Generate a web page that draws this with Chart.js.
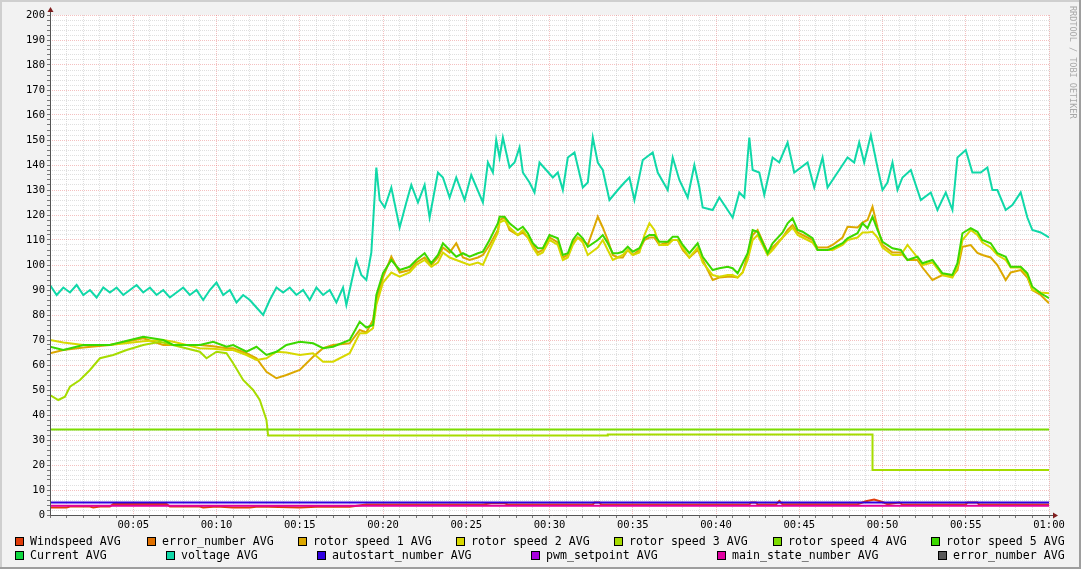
<!DOCTYPE html>
<html>
<head>
<meta charset="utf-8">
<script src="https://cdn.jsdelivr.net/npm/chart.js@4.4.1/dist/chart.umd.min.js"></script>
<style>
  html, body { margin: 0; padding: 0; background: #f2f2f2; overflow: hidden; }
  canvas { display: block; }
</style>
</head>
<body>
<canvas id="graph" width="1081" height="569"></canvas>
<script>
// minutes since start
const windT = [0,1.0,1.2,2.4,2.6,3.0,3.6,3.8,7.0,7.2, 9.0,9.2,10.0,11.0,12.0,12.5,15.0,16.0,18.0,19.0,
  26.0,26.5,27.3,27.5,32.6,32.7,33.0,33.1,42.0,42.1, 42.4,42.5,43.6,43.8,44.0,48.5,49.0,49.5,50.0,50.3,
  51.0,51.2,55.0,55.1,55.7,55.8,60];
const windV = [3.0,3.0,3.4,3.4,3.0,3.4,3.4,4.4,4.4,3.4, 3.4,3.0,3.4,3.0,3.0,3.4,3.0,3.3,3.3,4.2,
  4.2,4.7,4.7,4.2,4.2,5.0,5.0,4.2,4.2,5.0, 5.0,4.2,4.2,5.6,4.3,4.3,5.5,6.2,5.2,4.3,
  5.0,4.2,4.2,5.0,5.0,4.2,4.2];

const rotorT = [0,0.8,2.0,3.6,5.6,6.8,7.4,9.0,9.8,10.6, 11.0,11.8,12.4,13.0,13.6,14.2,15.0,15.8,16.4,17.0,
  18.0,18.6,19.0,19.4,19.6,20.0,20.5,21.0,21.6,22.0, 22.5,22.9,23.3,23.6,24.0,24.4,24.8,25.2,25.7,26.0,
  26.4,26.9,27.0,27.3,27.6,28.1,28.4,28.7,29.0,29.3, 29.6,30.0,30.5,30.8,31.1,31.4,31.7,32.0,32.3,32.9,
  33.2,33.5,33.8,34.1,34.4,34.7,35.0,35.4,35.7,36.0, 36.3,36.6,37.1,37.4,37.7,38.0,38.4,38.9,39.2,39.8,
  40.2,40.7,41.0,41.3,41.6,41.9,42.2,42.5,43.1,43.4, 44.0,44.3,44.6,44.9,45.2,45.8,46.1,46.7,47.0,47.6,
  47.9,48.5,48.8,49.1,49.4,49.7,50.0,50.6,51.1,51.5, 52.1,52.4,53.0,53.6,54.2,54.5,54.8,55.3,55.7,56.0,
  56.5,56.9,57.4,57.7,58.3,58.7,59.0,59.5,60.0];
const rotor1V = [64.7,66,67,68,70.7,68,68,68,67.5,66.7, 66.7,64.7,62.7,57.3,54.7,56,58,63.3,66.7,68,
  68.7,74,73,78,86,95,103.3,97,98,101, 103,100,103,107,105,108.7,103,102,103,104,
  108,114,118,119,114,112,113,111,108,105, 106,111,109,103,104,109,111,110,108,119.3,
  115,110,104,103,103,106,104,106,110,111, 111,108,109,110,110,106,103,106,102,94,
  95,95.3,95.3,95,97,104,112,114,105,107, 111,114,116,113,112,110,107,107,108,111,
  115.3,115,117,118,123.3,115,108,105,105,102, 102,99,94,96,95.5,98,107.3,108,104.8,104,
  103,100,94,97,98,95,90,88,84.7];
const rotor2V = [70,69,68,68,69.5,70,69.3,66.7,66.5,66, 66,64,62,62.7,65.3,65,64,64.7,61.3,61.3,
  64.7,72.7,72.7,74.7,84,93,97,95.3,97,100, 102,99.3,101,105,103,102,101,100,101,100,
  106,113,117,118,115,112,114,111,107,104, 105,110,108,102,103,108,111,109,104,107,
  110,106,102,103,104,106,104,105,112,116.7, 114,108,108,110,110,107,103,107,101,96,
  95.3,96,96,95,97,102,110,112,104,106, 111,113,115,112,111,109,106,106,106,108,
  110,111,113,113,113.3,111,107,104,104,108, 103,100,101,96,95,99,110,114,112,109,
  107,104,102,99,99,96,90,89,88.7];
const rotor5V = [67.3,66,68,68,71.3,70,68,68,69.3,67.3, 68,65.3,67.3,64,65.3,68,69.3,68.7,66.7,67.3,
  70,77.3,75,76,88,96.7,102,98,99.3,102, 104.7,100.7,104,108.7,106,103.3,104.7,103.3,104.7,105.3,
  110,116.7,119.3,119.3,116.7,114,115.3,112.7,108.7,106.7, 106.7,112,110.7,104,104.7,110,112.7,110.7,107.3,110,
  112,108.7,104.7,104.7,105.3,107.3,105.3,106.7,110.7,112, 112,109.3,109.3,111.3,111.3,108,104.7,108.7,103.3,98,
  98.7,99.3,98.7,96.7,100.7,104.7,114,113.3,104.7,108.7, 113,116.7,118.7,114,113.3,110.7,106,106,106.7,108.7,
  110.7,112.7,116.7,114.7,119.3,114,109.3,106.7,106,102, 103.3,100.7,102,96.7,96,100.7,112.7,114.7,113.3,110,
  108.7,104.7,103.3,99.3,99.3,96.7,91.3,88.7,86.7];

const rotor3T = [0,0.5,0.9,1.2,1.8,2.4,3.0,3.8,4.6,5.6, 6.6,7.8,9.0,9.4,10.0,10.6,11.0,11.6,12.2,12.6,
  13.0,13.1,33.5,33.5,49.4,49.4,60];
const rotor3V = [48,46,47.3,51.3,54,58,62.7,64,66,68, 69.3,67.3,65.3,62.7,65.3,64.7,60.7,54,50,46,
  38,31.8,31.8,32.2,32.2,18,18];
const rotor4T = [0,60];
const rotor4V = [34.2,34.2];

const voltT = [0,0.4,0.8,1.2,1.6,2.0,2.4,2.8,3.2,3.6, 4.0,4.4,4.8,5.2,5.6,6.0,6.4,6.8,7.2,7.6,
  8.0,8.4,8.8,9.2,9.6,10.0,10.4,10.8,11.2,11.6, 12.0,12.4,12.8,13.2,13.6,14.0,14.4,14.8,15.2,15.6,
  16.0,16.4,16.8,17.2,17.6,17.8,18.1,18.4,18.7,19.0, 19.3,19.6,19.8,20.1,20.5,21.0,21.4,21.7,22.1,22.5,
  22.8,23.3,23.6,24.0,24.4,24.9,25.3,26.0,26.3,26.6, 26.8,27.0,27.2,27.6,27.9,28.2,28.4,28.8,29.1,29.4,
  29.8,30.2,30.5,30.8,31.1,31.5,32.0,32.3,32.6,32.9, 33.2,33.6,34.1,34.5,34.8,35.1,35.6,36.2,36.5,37.1,
  37.4,37.8,38.3,38.7,39.0,39.2,39.8,40.2,40.7,41.0, 41.4,41.7,42.0,42.2,42.6,42.9,43.4,43.8,44.3,44.7,
  45.5,45.9,46.4,46.7,47.3,47.9,48.3,48.6,48.9,49.3, 49.7,50.0,50.3,50.6,50.9,51.2,51.7,52.3,52.9,53.3,
  53.8,54.2,54.5,55.0,55.4,55.9,56.3,56.6,56.9,57.4, 57.8,58.3,58.7,59.0,59.5,60.0];
const voltV = [92,88,91,89,92,88,90,87,91,89, 91,88,90,92,89,91,88,90,87,89,
  91,88,90,86,90,93,88,90,85,88, 86,83,80,86,91,89,91,88,90,86,
  91,88,90,85,91,84,93,102,96,94, 105,139,126,123,131,115,125,132,125,132,
  119,137,135,127,135,126,136,125,141,137, 150,143,151,139,141,147,137,133,129,141,
  138,135,137,130,143,145,131,133,151,141, 138,126,130,133,135,126,142,145,137,130,
  143,134,127,140,131,123,122,127,122,119, 129,127,151,138,137,128,143,141,149,137,
  141,131,143,131,137,143,141,149,141,152, 139,130,133,141,130,135,138,126,129,122,
  129,122,143,146,137,137,139,130,130,122, 124,129,119,114,113,111];

const autostartT = [0,60];
const autostartV = [5,5];
const mainStateT = [0,60];
const mainStateV = [3.7,3.7];

const pts = (t, v) => t.map((x, i) => ({ x, y: v[i] }));

const series = [
  { label: "Windspeed AVG",         color: "#e03c0a", data: pts(windT, windV) },
  { label: "error_number AVG",      color: "#e07000", data: [] },
  { label: "rotor speed 1 AVG",     color: "#dca800", data: pts(rotorT, rotor1V) },
  { label: "rotor speed 2 AVG",     color: "#d8d800", data: pts(rotorT, rotor2V) },
  { label: "rotor speed 3 AVG",     color: "#a6dc00", data: pts(rotor3T, rotor3V) },
  { label: "rotor speed 4 AVG",     color: "#7cdc00", data: pts(rotor4T, rotor4V) },
  { label: "rotor speed 5 AVG",     color: "#3cd800", data: pts(rotorT, rotor5V) },
  { label: "Current AVG",           color: "#10d840", data: [] },
  { label: "voltage AVG",           color: "#10d8a8", data: pts(voltT, voltV) },
  { label: "autostart_number AVG",  color: "#3000e0", data: pts(autostartT, autostartV) },
  { label: "pwm_setpoint AVG",      color: "#a800dc", data: [] },
  { label: "main_state_number AVG", color: "#e000a0", data: pts(mainStateT, mainStateV) },
  { label: "error_number AVG",      color: "#585858", data: [] }
];

// legend layout (rrdtool style, two justified rows)
const legendSlots = [
  [15,0],[147,0],[298,0],[456,0],[614,0],[773,0],[931,0],
  [15,1],[166,1],[317,1],[531,1],[717,1],[938,1]
];
const legendRowY = [541.5, 555.5];
const MONO = '"DejaVu Sans Mono", "Liberation Mono", monospace';

const minorGrid = "rgba(150,150,150,0.3)";
const majorGrid = "rgba(225,90,90,0.38)";

const rrdFrame = {
  id: "rrdFrame",
  beforeDraw(chart) {
    const { ctx, chartArea: a, width: w, height: h } = chart;
    ctx.save();
    ctx.fillStyle = "#f2f2f2";
    ctx.fillRect(0, 0, w, h);
    ctx.fillStyle = "#cfcfcf";
    ctx.fillRect(0, 0, w, 2);
    ctx.fillRect(0, 0, 2, h);
    ctx.fillStyle = "#9e9e9e";
    ctx.fillRect(w - 2, 0, 2, h);
    ctx.fillRect(0, h - 2, w, 2);
    ctx.fillStyle = "#ffffff";
    ctx.fillRect(a.left, a.top, a.right - a.left, a.bottom - a.top);
    ctx.restore();
  },
  afterDraw(chart) {
    const { ctx, chartArea: a } = chart;
    const x0 = Math.round(a.left) + 0.5, y0 = Math.round(a.bottom) + 0.5;
    ctx.save();
    // axes
    ctx.strokeStyle = "#555";
    ctx.lineWidth = 1;
    ctx.beginPath();
    ctx.moveTo(x0, y0); ctx.lineTo(x0, a.top - 4);
    ctx.moveTo(x0, y0); ctx.lineTo(a.right + 5, y0);
    ctx.stroke();
    // arrows
    ctx.fillStyle = "#801f1f";
    ctx.beginPath();
    ctx.moveTo(x0, a.top - 8); ctx.lineTo(x0 - 3, a.top - 3); ctx.lineTo(x0 + 3, a.top - 3);
    ctx.closePath(); ctx.fill();
    ctx.beginPath();
    ctx.moveTo(a.right + 9, y0); ctx.lineTo(a.right + 4, y0 - 3); ctx.lineTo(a.right + 4, y0 + 3);
    ctx.closePath(); ctx.fill();

    // legend
    ctx.font = "11.6px " + MONO;
    ctx.textBaseline = "middle";
    ctx.textAlign = "left";
    chart.data.datasets.forEach((ds, i) => {
      const [bx, row] = legendSlots[i];
      const cy = legendRowY[row];
      ctx.fillStyle = ds.borderColor;
      ctx.fillRect(bx, cy - 4.5, 9, 9);
      ctx.strokeStyle = "#000";
      ctx.strokeRect(bx + 0.5, cy - 4, 8, 8);
      ctx.fillStyle = "#000";
      ctx.fillText(ds.label, bx + 15, cy + 0.5);
    });

    // watermark
    ctx.translate(1072, 6);
    ctx.rotate(Math.PI / 2);
    ctx.font = "8.5px " + MONO;
    ctx.fillStyle = "#a8a8a8";
    ctx.fillText("RRDTOOL / TOBI OETIKER", 0, 0);
    ctx.restore();
  }
};

const fmtTime = v => {
  const h = Math.floor(v / 60), m = v % 60;
  return String(h).padStart(2, "0") + ":" + String(m).padStart(2, "0");
};

new Chart(document.getElementById("graph").getContext("2d"), {
  type: "line",
  data: {
    datasets: series.map((s, i) => ({
      label: s.label,
      data: s.data,
      borderColor: s.color,
      backgroundColor: s.color,
      borderWidth: 2,
      pointRadius: 0,
      tension: 0,
      fill: false,
      order: series.length - i
    }))
  },
  options: {
    responsive: false,
    animation: false,
    devicePixelRatio: 1,
    layout: { padding: { left: 0, right: 32, top: 15, bottom: 34 } },
    plugins: { legend: { display: false }, tooltip: { enabled: false } },
    scales: {
      x: {
        type: "linear", min: 0, max: 60,
        afterFit: s => { s.height = 20; },
        ticks: {
          stepSize: 1, autoSkip: false, maxRotation: 0, padding: 1,
          color: "#000", font: { family: MONO, size: 10.5 },
          callback: v => (v > 0 && v % 5 === 0) ? fmtTime(v) : ""
        },
        grid: {
          color: c => (c.tick && c.tick.value % 5 === 0) ? majorGrid : minorGrid,
          borderDash: [1, 1], tickLength: 3, tickColor: "#777"
        },
        border: { display: false, dash: [1, 1] }
      },
      y: {
        type: "linear", min: 0, max: 200,
        afterFit: s => { s.width = 50; },
        ticks: {
          stepSize: 2, autoSkip: false, padding: 2,
          color: "#000", font: { family: MONO, size: 10.5 },
          callback: v => (v % 10 === 0) ? String(v) : ""
        },
        grid: {
          color: c => (c.tick && c.tick.value % 10 === 0) ? majorGrid : minorGrid,
          borderDash: [1, 1], tickLength: 3, tickColor: "#777"
        },
        border: { display: false, dash: [1, 1] }
      }
    }
  },
  plugins: [rrdFrame]
});
</script>
</body>
</html>
